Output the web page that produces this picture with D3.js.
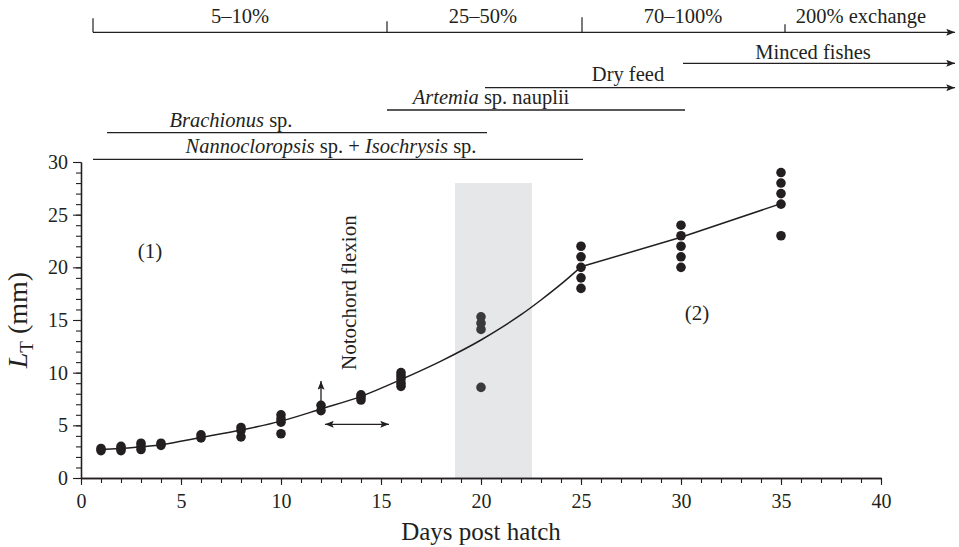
<!DOCTYPE html>
<html><head><meta charset="utf-8">
<script src="https://cdn.jsdelivr.net/npm/d3@7"></script>
<style>
body{margin:0;background:#fff}
svg{display:block}
text{font-family:"Liberation Serif","Times New Roman",serif;fill:#231f20}
</style>
</head><body>
<svg id="chart" width="959" height="547"></svg>
<script>
// ---------- data ----------
const days = [1, 2, 3, 4, 6, 8, 10, 12, 14, 16, 20, 25, 30, 35];
const lengths = [
  [2.6, 2.8],
  [2.6, 2.8, 3.0],
  [2.7, 3.0, 3.3],
  [3.1, 3.3],
  [3.8, 4.1],
  [3.9, 4.5, 4.8],
  [4.2, 5.3, 5.6, 6.0],
  [6.4, 6.9],
  [7.4, 7.7, 7.9],
  [8.7, 9.0, 9.4, 9.7, 10.0],
  [8.6, 14.1, 14.7, 15.3],
  [18, 19, 20, 21, 22],
  [20, 21, 22, 23, 24],
  [23, 26, 27, 28, 29]
];
const curveDays = [1, 4, 6, 8, 10, 12, 14, 16, 18, 20, 21, 22, 23, 24, 25];
const curveLT   = [2.7, 3.15, 3.85, 4.55, 5.4, 6.55, 7.75, 9.35, 11.1, 13.1, 14.25, 15.5, 16.9, 18.4, 20.05];
const lineDays  = [25, 30, 35];
const lineLT    = [20.05, 22.85, 26.05];

const shadeDays = [18.7, 22.55];
const shadeTop = 28;

const xTicksMajor = [0, 5, 10, 15, 20, 25, 30, 35, 40];
const yTicksMajor = [0, 5, 10, 15, 20, 25, 30];

const exchangeTicks = [0.6, 15.3, 25.05, 35.2];
const exchangeLabels = ["5–10%", "25–50%", "70–100%", "200% exchange"];
const exchangeLabelDays = [7.95, 20.1, 30.1, 39.0];
const arrowEndDay = 43.7;

const feedNames = [
  [["Minced fishes", false]],
  [["Dry feed", false]],
  [["Artemia", true], [" sp. nauplii", false]],
  [["Brachionus", true], [" sp.", false]],
  [["Nannocloropsis", true], [" sp. + ", false], ["Isochrysis", true], [" sp.", false]]
];
const feedStart = [30.1, 20.2, 15.3, 1.3, 0.6];
const feedEnd   = [43.7, 43.7, 30.2, 20.3, 25.1];
const feedArrow = [true, true, false, false, false];
const feedLabelDay = [36.6, 27.35, 20.5, 7.5, 12.5];

// ---------- layout ----------
const FONT = '"Liberation Serif","Times New Roman",serif';
const svg = d3.select("#chart");
const x = d3.scaleLinear().domain([0, 40]).range([81, 881]);
const y = d3.scaleLinear().domain([0, 30]).range([478, 162]);
const ink = "#231f20";

svg.append("defs").append("marker")
  .attr("id", "arrow").attr("viewBox", "0 0 10 8")
  .attr("refX", 10).attr("refY", 4)
  .attr("markerWidth", 10).attr("markerHeight", 7)
  .attr("markerUnits", "userSpaceOnUse")
  .attr("orient", "auto-start-reverse")
  .append("path").attr("d", "M0,0 L10,4 L0,8 L2,4 Z").attr("fill", ink);

// shaded band
svg.append("rect")
  .attr("x", x(shadeDays[0])).attr("y", y(shadeTop))
  .attr("width", x(shadeDays[1]) - x(shadeDays[0]))
  .attr("height", y(0) - y(shadeTop))
  .attr("fill", "#e6e7e8");

// axes
const xMinor = d3.axisBottom(x).tickValues(d3.range(0, 41)).tickSize(5).tickFormat("").tickSizeOuter(0);
const xMajor = d3.axisBottom(x).tickValues(xTicksMajor).tickSize(7).tickPadding(9).tickSizeOuter(0);
const yMinor = d3.axisLeft(y).tickValues(d3.range(0, 31)).tickSize(5).tickFormat("").tickSizeOuter(0);
const yMajor = d3.axisLeft(y).tickValues(yTicksMajor).tickSize(8).tickPadding(5).tickSizeOuter(0);

function styleAxis(g) {
  g.attr("font-family", FONT);
  g.selectAll("path.domain").attr("stroke", ink).attr("stroke-width", 1.3);
  g.selectAll(".tick line").attr("stroke", ink).attr("stroke-width", 1.1);
  g.selectAll("text").attr("font-size", 20).attr("fill", ink).style("font-family", FONT);
}
svg.append("g").attr("transform", `translate(0,${y(0)})`).call(xMinor).call(styleAxis);
svg.append("g").attr("transform", `translate(0,${y(0)})`).call(xMajor).call(styleAxis);
svg.append("g").attr("transform", `translate(${x(0)},0)`).call(yMinor).call(styleAxis);
svg.append("g").attr("transform", `translate(${x(0)},0)`).call(yMajor).call(styleAxis);

// axis titles
svg.append("text").attr("x", (x(0) + x(40)) / 2).attr("y", 539.5)
  .attr("text-anchor", "middle").attr("font-size", 25).text("Days post hatch");
const yt = svg.append("text")
  .attr("transform", `translate(27,${(y(0) + y(30)) / 2}) rotate(-90)`)
  .attr("text-anchor", "middle").attr("font-size", 28);
yt.append("tspan").attr("font-style", "italic").text("L");
yt.append("tspan").attr("font-size", 19).attr("dy", 6).text("T");
yt.append("tspan").attr("dy", -6).text(" (mm)");

// fitted curve + line
svg.append("path")
  .datum(curveDays.map((d, i) => [d, curveLT[i]]))
  .attr("fill", "none").attr("stroke", ink).attr("stroke-width", 1.5)
  .attr("d", d3.line().x(d => x(d[0])).y(d => y(d[1])).curve(d3.curveMonotoneX));
svg.append("path")
  .datum(lineDays.map((d, i) => [d, lineLT[i]]))
  .attr("fill", "none").attr("stroke", ink).attr("stroke-width", 1.5)
  .attr("d", d3.line().x(d => x(d[0])).y(d => y(d[1])));

// points
const pts = [];
days.forEach((d, i) => lengths[i].forEach(v => pts.push([d, v])));
svg.append("g").selectAll("circle").data(pts).join("circle")
  .attr("cx", d => x(d[0])).attr("cy", d => y(d[1])).attr("r", 4.8)
  .attr("fill", d => (d[0] > shadeDays[0] && d[0] < shadeDays[1]) ? "#3a3a3c" : ink);

// annotations inside plot
svg.append("text").attr("x", x(3.45)).attr("y", y(21.6)).attr("dy", "0.35em")
  .attr("text-anchor", "middle").attr("font-size", 21).text("(1)");
svg.append("text").attr("x", x(30.8)).attr("y", y(15.7)).attr("dy", "0.35em")
  .attr("text-anchor", "middle").attr("font-size", 21).text("(2)");
svg.append("text")
  .attr("transform", `translate(${x(13.4) + 7},${y(17.6)}) rotate(-90)`)
  .attr("text-anchor", "middle").attr("font-size", 21).text("Notochord flexion");
svg.append("line")
  .attr("x1", x(12)).attr("x2", x(12)).attr("y1", y(7.0)).attr("y2", y(9.2))
  .attr("stroke", ink).attr("stroke-width", 1.3).attr("marker-end", "url(#arrow)");
svg.append("line")
  .attr("x1", x(12.2)).attr("x2", x(15.4)).attr("y1", y(5.1)).attr("y2", y(5.1))
  .attr("stroke", ink).attr("stroke-width", 1.3)
  .attr("marker-start", "url(#arrow)").attr("marker-end", "url(#arrow)");

// top: water exchange bar
const topY = 32.3;
const tickLen = [14, 11, 15, 8];
svg.append("line").attr("x1", x(exchangeTicks[0])).attr("x2", x(arrowEndDay))
  .attr("y1", topY).attr("y2", topY).attr("stroke", ink).attr("stroke-width", 1.3)
  .attr("marker-end", "url(#arrow)");
exchangeTicks.forEach((t, i) => {
  svg.append("line").attr("x1", x(t)).attr("x2", x(t)).attr("y1", topY).attr("y2", topY - tickLen[i])
    .attr("stroke", ink).attr("stroke-width", 1.2);
});
exchangeLabels.forEach((l, i) => {
  svg.append("text").attr("x", x(exchangeLabelDays[i])).attr("y", 23.3)
    .attr("text-anchor", "middle").attr("font-size", 20.5).text(l);
});

// feed lines
const feedLineY = [63.3, 87.7, 110, 132.7, 159.3];
const feedTextY = [58.5, 81, 103.5, 126.7, 152.7];
feedNames.forEach((segs, i) => {
  const ln = svg.append("line").attr("x1", x(feedStart[i])).attr("x2", x(feedEnd[i]))
    .attr("y1", feedLineY[i]).attr("y2", feedLineY[i])
    .attr("stroke", ink).attr("stroke-width", 1.3);
  if (feedArrow[i]) ln.attr("marker-end", "url(#arrow)");
  const t = svg.append("text").attr("x", x(feedLabelDay[i])).attr("y", feedTextY[i])
    .attr("text-anchor", "middle").attr("font-size", 20.5);
  segs.forEach(s => t.append("tspan").attr("font-style", s[1] ? "italic" : "normal").text(s[0]));
});
</script>
</body></html>
